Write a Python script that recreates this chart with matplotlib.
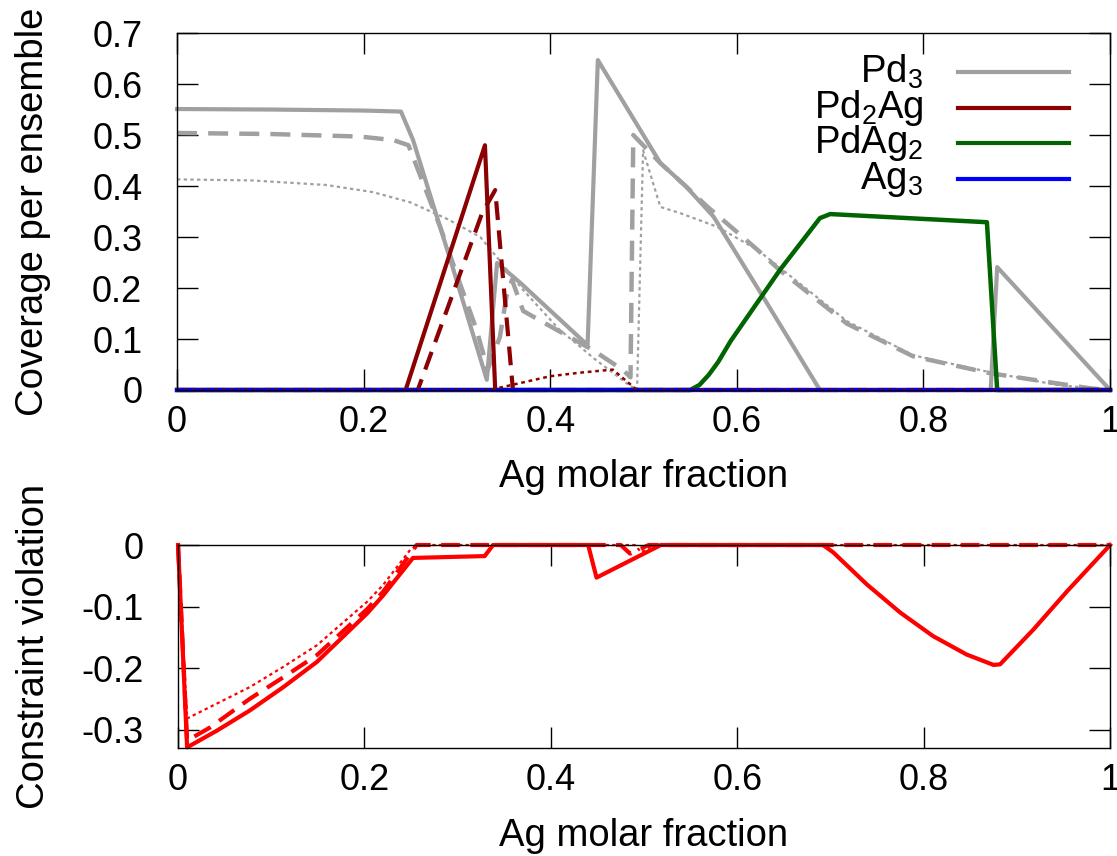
import numpy as np
import matplotlib
matplotlib.use('Agg')
import matplotlib.pyplot as plt
from matplotlib.ticker import FuncFormatter

plt.rcParams['font.family'] = ['Liberation Sans', 'DejaVu Sans']
plt.rcParams['mathtext.fontset'] = 'custom'
plt.rcParams['mathtext.rm'] = 'Liberation Sans'
plt.rcParams['mathtext.default'] = 'regular'
plt.rcParams['axes.unicode_minus'] = False

# ---- data ----
# top panel: coverage per ensemble, three variants (solid / dashed / dotted)
pd3_solid_x = [0.0, 0.10, 0.20, 0.24, 0.253, 0.274, 0.293, 0.332, 0.343, 0.368, 0.44, 0.451,
               0.518, 0.545, 0.575, 0.628, 0.689, 0.872, 0.879, 1.0]
pd3_solid_y = [0.551, 0.550, 0.548, 0.546, 0.49, 0.366, 0.255, 0.02, 0.249, 0.21, 0.088, 0.647,
               0.445, 0.40, 0.34, 0.183, 0.0, 0.0, 0.241, 0.0]

pd3_dash_x = [0.0, 0.10, 0.196, 0.232, 0.248, 0.282, 0.303, 0.321, 0.333, 0.346, 0.353, 0.359,
              0.371, 0.40, 0.446, 0.478, 0.486, 0.489, 0.518, 0.545, 0.568, 0.60, 0.622, 0.646,
              0.718, 0.789, 0.871, 0.943, 0.98, 1.0]
pd3_dash_y = [0.504, 0.502, 0.497, 0.49, 0.48, 0.32, 0.21, 0.118, 0.04, 0.104, 0.183, 0.216,
              0.155, 0.125, 0.078, 0.039, 0.025, 0.50, 0.445, 0.40, 0.36, 0.31, 0.275, 0.235,
              0.13, 0.066, 0.033, 0.013, 0.003, 0.0]

pd3_dot_x = [0.0, 0.08, 0.16, 0.21, 0.25, 0.29, 0.325, 0.343, 0.371, 0.41, 0.432, 0.446, 0.482,
             0.493, 0.4995, 0.518, 0.539, 0.579, 0.622, 0.646, 0.718, 0.789, 0.871, 0.943, 1.0]
pd3_dot_y = [0.413, 0.411, 0.402, 0.388, 0.368, 0.335, 0.30, 0.26, 0.196, 0.118, 0.085, 0.063,
             0.013, 0.0, 0.47, 0.359, 0.347, 0.32, 0.275, 0.24, 0.135, 0.068, 0.035, 0.01, 0.0]

pd2ag_solid_x = [0.0, 0.245, 0.33, 0.341, 1.0]
pd2ag_solid_y = [0.0, 0.0, 0.48, 0.0, 0.0]
pd2ag_dash_x = [0.0, 0.258, 0.327, 0.341, 0.36, 1.0]
pd2ag_dash_y = [0.0, 0.0, 0.347, 0.392, 0.0, 0.0]
pd2ag_dot_x = [0.0, 0.335, 0.40, 0.432, 0.467, 0.493, 1.0]
pd2ag_dot_y = [0.0, 0.0, 0.027, 0.034, 0.04, 0.0, 0.0]

pdag2_x = [0.0, 0.55, 0.56, 0.57, 0.58, 0.593, 0.61, 0.646, 0.689, 0.70, 0.868, 0.879, 1.0]
pdag2_y = [0.0, 0.0, 0.01, 0.03, 0.055, 0.095, 0.14, 0.235, 0.337, 0.345, 0.329, 0.0, 0.0]

ag3_x = [0.0, 1.0]
ag3_y = [0.0, 0.0]

# bottom panel: constraint violation
cv_solid_x = [0.0, 0.0097, 0.0415, 0.077, 0.113, 0.149, 0.203, 0.220, 0.252, 0.329, 0.338,
              0.44, 0.449, 0.518, 0.692, 0.703, 0.739, 0.775, 0.810, 0.846, 0.875, 0.882,
              0.918, 0.954, 1.0]
cv_solid_y = [0.0, -0.329, -0.302, -0.269, -0.231, -0.19, -0.111, -0.082, -0.021, -0.018, 0.0,
              0.0, -0.053, 0.0, 0.0, -0.012, -0.064, -0.110, -0.148, -0.178, -0.195, -0.194,
              -0.137, -0.075, 0.0]
cv_dash_x = [0.0, 0.0097, 0.034, 0.077, 0.113, 0.149, 0.203, 0.220, 0.256, 0.475, 0.485,
             0.505, 1.0]
cv_dash_y = [0.0, -0.318, -0.297, -0.25, -0.215, -0.179, -0.104, -0.076, 0.0, 0.0, -0.014,
             0.0, 0.0]
cv_dot_x = [0.0, 0.0097, 0.077, 0.113, 0.149, 0.203, 0.220, 0.249, 0.26, 0.49, 0.497, 0.51, 1.0]
cv_dot_y = [0.0, -0.282, -0.231, -0.198, -0.163, -0.092, -0.065, -0.008, 0.0, 0.0, -0.012,
            0.0, 0.0]

x_ticks = [0, 0.2, 0.4, 0.6, 0.8, 1]
top_yticks = [0, 0.1, 0.2, 0.3, 0.4, 0.5, 0.6, 0.7]
bot_yticks = [-0.3, -0.2, -0.1, 0]
legend_labels = ['Pd$_3$', 'Pd$_2$Ag', 'PdAg$_2$', 'Ag$_3$']

grey = '#a0a0a0'
dred = '#8b0000'
green = '#006400'
blue = '#0000ff'
red = '#ff0000'
dash = (0, (4.5, 2.5))
dot = (0, (1.5, 1.5))
lab_fs = 27.5

fig = plt.figure(figsize=(11.17, 8.56), dpi=100)
ax1 = fig.add_axes([0.1585, 0.5444, 0.8353, 0.4170])
ax2 = fig.add_axes([0.1594, 0.1262, 0.8344, 0.2371])

fmt = FuncFormatter(lambda v, p: '%g' % v)

# top panel
ax1.plot(pd3_dot_x, pd3_dot_y, color=grey, lw=1.6, ls=dot, clip_on=False)
ax1.plot(pd3_dash_x, pd3_dash_y, color=grey, lw=3.2, ls=dash, clip_on=False)
ax1.plot(pd3_solid_x, pd3_solid_y, color=grey, lw=3, clip_on=False)
ax1.plot(pd2ag_solid_x, pd2ag_solid_y, color=dred, lw=3, clip_on=False)
ax1.plot(pd2ag_dash_x, pd2ag_dash_y, color=dred, lw=3, ls=dash, clip_on=False)
ax1.plot(pdag2_x, pdag2_y, color=green, lw=3.2, clip_on=False)
ax1.plot(ag3_x, ag3_y, color=blue, lw=3, clip_on=False)
ax1.plot(pd2ag_dot_x, pd2ag_dot_y, color=dred, lw=1.8, ls=dot, clip_on=False)

ax1.set_xlim(0, 1)
ax1.set_ylim(0, 0.7)
ax1.set_xticks(x_ticks)
ax1.set_yticks(top_yticks)
ax1.xaxis.set_major_formatter(fmt)
ax1.yaxis.set_major_formatter(fmt)
ax1.set_xlabel('Ag molar fraction', fontsize=lab_fs)
ax1.set_ylabel('Coverage per ensemble', fontsize=lab_fs)
ax1.xaxis.set_label_coords(0.5, -0.2437)
ax1.xaxis.label.set_va('center')
ax1.yaxis.set_label_coords(-0.154, 0.5)
ax1.yaxis.label.set_va('center')

# legend, gnuplot-style (text right-aligned left of the sample line)
leg_colors = [grey, dred, green, blue]
leg_rows = [0.891, 0.790, 0.692, 0.591]
for lab, col, yy in zip(legend_labels, leg_colors, leg_rows):
    ax1.text(0.7996, yy, lab, transform=ax1.transAxes, ha='right', va='center', fontsize=lab_fs)
    ax1.plot([0.837, 0.956], [yy, yy], transform=ax1.transAxes, color=col, lw=3)

# bottom panel
ax2.plot(cv_dot_x, cv_dot_y, color=red, lw=1.6, ls=dot, clip_on=False)
ax2.plot(cv_dash_x, cv_dash_y, color=red, lw=3, ls=dash, clip_on=False)
ax2.plot(cv_solid_x, cv_solid_y, color=red, lw=3, clip_on=False)

ax2.set_xlim(0, 1)
ax2.set_ylim(-0.33, 0)
ax2.set_xticks(x_ticks)
ax2.set_yticks(bot_yticks)
ax2.xaxis.set_major_formatter(fmt)
ax2.yaxis.set_major_formatter(fmt)
ax2.set_xlabel('Ag molar fraction', fontsize=lab_fs)
ax2.set_ylabel('Constraint violation', fontsize=lab_fs)
ax2.xaxis.set_label_coords(0.5, -0.4335)
ax2.xaxis.label.set_va('center')
ax2.yaxis.set_label_coords(-0.155, 0.5)
ax2.yaxis.label.set_va('center')

for ax in (ax1, ax2):
    ax.tick_params(direction='in', length=15, width=1, top=True, right=True, labelsize=26)
    ax.tick_params(axis='x', pad=11)
    ax.tick_params(axis='y', pad=25)
    for s in ax.spines.values():
        s.set_linewidth(1)

fig.savefig('out.png', dpi=100)
